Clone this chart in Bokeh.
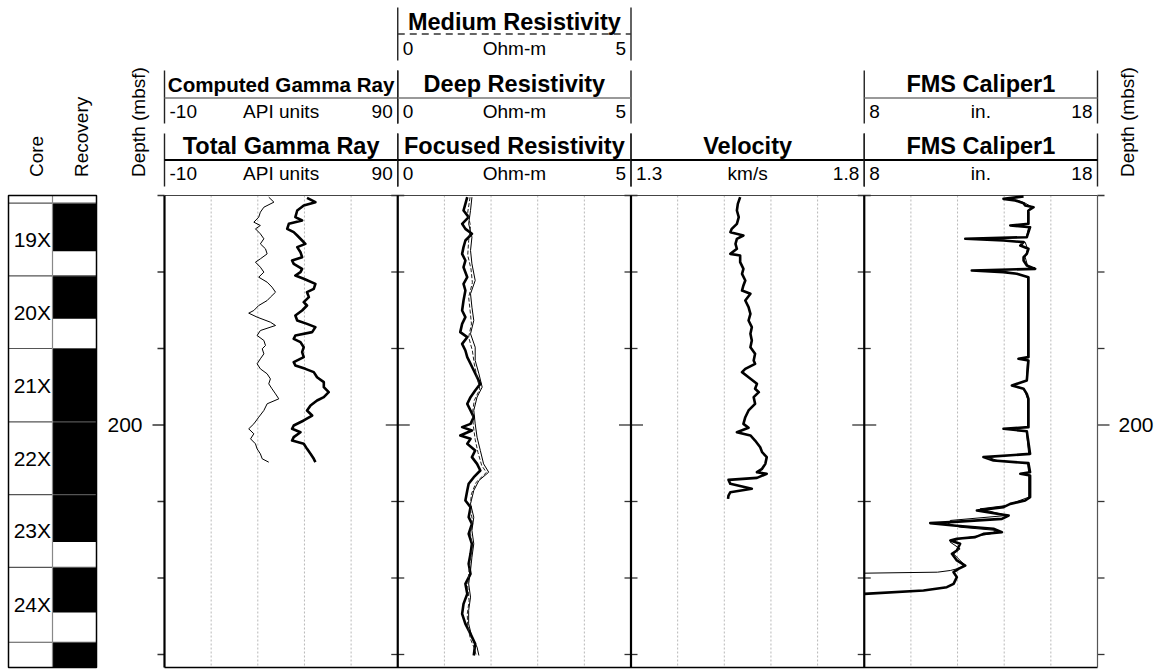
import math
from bokeh.plotting import figure
from bokeh.models import Range1d
from bokeh.core.properties import value
from bokeh.embed import file_html
from bokeh.resources import INLINE

# ---------------- core inventory (mbsf) ----------------
core_names = ["19X", "20X", "21X", "22X", "23X", "24X", "25X"]
core_tops = [171.0, 180.5, 190.0, 199.6, 209.1, 218.6, 228.4]
core_bottoms = [180.5, 190.0, 199.6, 209.1, 218.6, 228.4, 238.0]
recovered_bottoms = [177.3, 186.1, 199.6, 209.1, 215.3, 224.5, 238.0]

depth_ticks = [170, 180, 190, 200, 210, 220, 230]
labelled_depths = [200]

# ---------------- track scales ----------------
gamma_scale = (-10, 90)
res_scale = (0, 5)
vel_scale = (1.3, 1.8)
cal_scale = (8, 18)

# ---------------- log curves: (depth mbsf, value) ----------------
total_gamma = [
    (170.31, 51.1), (170.87, 54.7), (171.31, 49.7), (171.96, 46.9), (172.83, 46.1),
    (173.27, 49.0), (173.70, 43.3), (174.36, 42.6), (174.79, 45.4), (175.23, 46.9),
    (175.88, 49.0), (176.32, 50.4), (176.75, 46.9), (177.41, 48.3), (178.06, 49.0),
    (178.50, 44.7), (178.93, 45.4), (179.59, 49.0), (180.02, 48.3), (180.46, 46.1),
    (180.89, 49.7), (181.55, 54.7), (182.20, 54.0), (182.64, 51.1), (183.29, 51.9),
    (183.94, 49.7), (184.38, 51.1), (185.03, 49.0), (185.69, 46.1), (186.34, 46.9),
    (186.78, 51.1), (187.21, 54.7), (187.86, 53.3), (188.30, 46.1), (188.74, 45.4),
    (189.17, 48.3), (189.83, 49.7), (190.48, 49.0), (191.13, 49.7), (191.79, 45.4),
    (192.22, 46.1), (192.66, 50.4), (193.09, 54.0), (193.75, 55.4), (194.40, 58.3),
    (195.05, 58.3), (195.71, 60.4), (196.36, 58.3), (196.80, 55.4), (197.45, 52.6),
    (198.10, 51.1), (198.76, 53.3), (199.41, 49.7), (200.07, 45.4), (200.50, 44.7),
    (200.94, 48.3), (201.59, 45.4), (202.03, 44.7), (202.46, 49.7), (203.12, 51.1),
    (203.77, 52.6), (204.42, 54.0), (204.86, 54.7),
]

computed_gamma = [
    (170.22, 34.7), (170.87, 36.9), (171.53, 32.6), (172.18, 31.1), (172.83, 30.4),
    (173.49, 28.3), (173.92, 31.1), (174.36, 29.0), (175.01, 31.1), (175.66, 32.6),
    (176.32, 31.1), (176.97, 33.3), (177.63, 34.0), (178.28, 31.1), (178.71, 29.0),
    (179.37, 31.1), (180.02, 32.6), (180.68, 30.4), (181.33, 34.0), (181.98, 36.1),
    (182.64, 37.6), (183.29, 35.4), (183.73, 34.0), (184.38, 30.4), (185.03, 28.3),
    (185.38, 26.1), (185.90, 29.7), (186.56, 35.4), (186.99, 37.6), (187.65, 31.1),
    (188.30, 29.7), (188.95, 32.6), (189.61, 33.3), (190.04, 31.9), (190.70, 32.6),
    (191.35, 31.1), (192.00, 29.7), (192.66, 31.1), (193.31, 34.0), (193.97, 35.4),
    (194.62, 34.7), (195.27, 36.1), (195.93, 37.6), (196.58, 39.0), (197.23, 34.0),
    (198.10, 32.6), (198.98, 30.4), (199.85, 28.3), (200.50, 26.1), (201.15, 28.3),
    (201.81, 26.9), (202.46, 29.0), (203.12, 29.7), (203.77, 31.1), (204.42, 31.9),
    (204.86, 34.7),
]

focused_res = [
    (170.22, 1.49), (171.09, 1.45), (171.96, 1.41), (172.83, 1.52), (173.70, 1.38),
    (174.36, 1.45), (175.01, 1.59), (175.88, 1.45), (176.75, 1.41), (177.63, 1.38),
    (178.50, 1.45), (179.37, 1.41), (180.68, 1.49), (181.55, 1.41), (182.42, 1.45),
    (183.73, 1.41), (185.03, 1.38), (185.90, 1.45), (186.78, 1.38), (187.86, 1.34),
    (188.52, 1.49), (189.39, 1.38), (190.26, 1.45), (191.13, 1.49), (192.00, 1.56),
    (192.88, 1.63), (193.75, 1.70), (194.62, 1.77), (195.49, 1.66), (196.36, 1.56),
    (197.23, 1.49), (198.10, 1.56), (198.98, 1.63), (199.85, 1.56), (200.28, 1.38),
    (200.72, 1.59), (201.37, 1.34), (201.81, 1.56), (202.46, 1.49), (203.33, 1.66),
    (204.20, 1.59), (205.08, 1.70), (205.95, 1.77), (206.82, 1.63), (207.69, 1.52),
    (208.56, 1.49), (209.87, 1.45), (210.74, 1.56), (212.05, 1.52), (212.92, 1.59),
    (214.23, 1.52), (215.53, 1.59), (216.84, 1.56), (218.15, 1.52), (219.46, 1.56),
    (220.76, 1.45), (222.07, 1.49), (223.38, 1.41), (224.69, 1.38), (225.99, 1.45),
    (227.30, 1.56), (228.61, 1.66), (230.13, 1.63),
]

deep_res = [
    (170.22, 1.59), (171.96, 1.56), (173.70, 1.52), (175.45, 1.59), (177.19, 1.56),
    (178.93, 1.59), (181.11, 1.66), (182.85, 1.56), (184.60, 1.59), (186.34, 1.63),
    (188.08, 1.56), (189.83, 1.66), (191.57, 1.66), (193.31, 1.74), (195.05, 1.81),
    (196.36, 1.70), (198.10, 1.63), (199.85, 1.66), (201.59, 1.70), (203.33, 1.77),
    (205.08, 1.84), (206.17, 1.95), (207.26, 1.74), (208.56, 1.63), (210.31, 1.56),
    (212.05, 1.63), (213.79, 1.59), (215.53, 1.63), (217.28, 1.59), (219.02, 1.56),
    (220.76, 1.52), (222.50, 1.56), (224.25, 1.52), (225.99, 1.52), (227.74, 1.59),
    (229.04, 1.70), (230.13, 1.74),
]

medium_res = [
    (170.22, 1.55), (172.20, 1.50), (174.00, 1.56), (175.90, 1.52), (177.80, 1.50),
    (179.60, 1.57), (181.40, 1.60), (183.30, 1.52), (185.00, 1.55), (186.80, 1.58),
    (188.50, 1.52), (190.30, 1.60), (192.00, 1.64), (193.80, 1.70), (195.30, 1.76),
    (196.80, 1.64), (198.50, 1.60), (200.10, 1.62), (201.90, 1.66), (203.60, 1.72),
    (205.30, 1.80), (206.20, 1.90), (207.50, 1.68), (209.00, 1.58), (210.80, 1.55),
    (212.40, 1.60), (214.20, 1.56), (216.00, 1.60), (217.80, 1.55), (219.60, 1.52),
    (221.20, 1.50), (223.00, 1.53), (224.70, 1.49), (226.40, 1.50), (228.00, 1.56),
    (229.30, 1.65), (230.10, 1.68),
]

velocity = [
    (170.22, 1.534), (171.09, 1.529), (171.96, 1.527), (172.83, 1.531), (173.70, 1.527),
    (174.36, 1.516), (174.79, 1.513), (175.23, 1.541), (175.66, 1.527), (176.32, 1.524),
    (176.97, 1.527), (177.63, 1.513), (177.84, 1.534), (178.71, 1.534), (179.59, 1.541),
    (180.24, 1.538), (181.11, 1.545), (181.76, 1.541), (182.42, 1.538), (182.85, 1.556),
    (183.73, 1.545), (184.60, 1.552), (185.47, 1.556), (186.34, 1.552), (187.21, 1.559),
    (188.08, 1.556), (188.95, 1.559), (189.83, 1.556), (190.70, 1.566), (191.57, 1.563),
    (192.00, 1.566), (192.66, 1.545), (193.09, 1.538), (193.75, 1.552), (194.62, 1.570),
    (195.27, 1.566), (195.71, 1.574), (196.36, 1.563), (197.23, 1.566), (198.10, 1.552),
    (198.98, 1.545), (199.85, 1.541), (200.37, 1.552), (200.94, 1.527), (201.37, 1.556),
    (202.03, 1.566), (202.90, 1.577), (203.55, 1.581), (204.20, 1.591), (205.08, 1.588),
    (205.73, 1.581), (206.17, 1.570), (206.38, 1.591), (206.91, 1.570), (207.17, 1.509),
    (207.69, 1.513), (208.34, 1.559), (208.78, 1.513), (209.22, 1.509), (209.65, 1.508),
]

caliper_a = [
    (170.13, 14.83), (170.44, 13.97), (170.65, 14.47), (171.00, 14.83), (171.31, 14.90),
    (171.53, 15.26), (171.96, 15.04), (173.70, 15.04), (173.92, 14.26), (174.14, 15.11),
    (175.45, 14.97), (175.66, 12.33), (175.88, 13.97), (176.10, 14.83), (176.54, 14.69),
    (176.97, 15.04), (177.63, 14.97), (178.06, 14.83), (178.50, 14.83), (179.15, 14.97),
    (179.59, 15.33), (179.80, 12.61), (180.02, 13.97), (180.24, 14.54), (180.68, 15.04),
    (191.13, 15.04), (191.35, 14.61), (191.57, 15.04), (194.18, 14.97), (194.84, 14.33),
    (195.27, 14.83), (195.93, 14.97), (196.58, 15.04), (200.28, 15.04), (200.50, 13.97),
    (200.81, 14.97), (203.77, 15.11), (204.20, 13.11), (204.64, 13.54), (204.99, 15.04),
    (206.17, 15.11), (206.38, 14.69), (206.60, 15.11), (209.44, 15.11), (209.87, 14.90),
    (210.31, 14.26), (210.74, 13.97), (211.18, 12.83), (211.61, 13.69), (211.83, 14.19),
    (212.27, 13.90), (212.70, 11.69), (212.83, 10.83), (213.14, 11.83), (213.57, 13.54),
    (214.01, 13.90), (214.23, 13.11), (214.66, 12.76), (214.88, 11.97), (215.10, 11.69),
    (215.53, 12.11), (216.41, 11.97), (216.84, 11.76), (217.71, 11.97), (218.37, 12.33),
    (218.80, 12.04), (219.24, 11.83), (219.89, 11.97), (220.76, 11.83), (221.20, 11.54),
    (221.63, 10.54), (222.07, 8.00),
]

caliper_b = [
    (170.13, 14.76), (170.44, 14.20), (170.65, 14.60), (171.00, 14.90), (171.53, 15.20),
    (171.96, 15.00), (173.70, 15.00), (173.92, 14.40), (174.14, 15.05), (175.45, 14.95),
    (175.66, 12.50), (175.88, 14.10), (176.10, 14.90), (176.97, 15.00), (178.06, 14.90),
    (179.15, 15.00), (179.59, 15.25), (179.80, 12.80), (180.02, 14.10), (180.24, 14.60),
    (180.68, 15.00), (191.13, 15.00), (191.35, 14.70), (191.57, 15.00), (194.18, 14.95),
    (194.84, 14.40), (195.27, 14.85), (196.58, 15.00), (200.28, 15.00), (200.50, 14.10),
    (200.81, 14.95), (203.77, 15.05), (204.20, 13.30), (204.64, 13.70), (204.99, 15.00),
    (206.17, 15.05), (206.38, 14.75), (206.60, 15.05), (209.44, 15.05), (210.09, 14.47),
    (210.52, 14.11), (210.96, 12.97), (211.39, 13.54), (211.83, 14.11), (212.48, 11.69),
    (212.92, 11.61), (213.36, 12.11), (213.79, 13.69), (214.23, 13.40), (214.88, 12.11),
    (215.32, 11.69), (216.19, 12.11), (216.84, 11.83), (217.71, 12.11), (218.37, 12.33),
    (218.80, 11.97), (219.02, 11.69), (219.24, 11.14), (219.37, 8.00),
]

# ---------------- page layout (pixels from top-left) ----------------
W, H = 1167, 669
DATA_TOP_PX, DATA_BOTTOM_PX = 195.0, 667.0
DEPTH_TOP, DEPTH_BOTTOM = 170.0, 231.7
TRACK_LEFT, TRACK_W = 164.0, 233.25
CORE_X0, CORE_X1, CORE_X2 = 8.0, 52.0, 96.0

PX_PER_M = (DATA_BOTTOM_PX - DATA_TOP_PX) / (DEPTH_BOTTOM - DEPTH_TOP)


def depth_at(px):
    return DEPTH_TOP + (px - DATA_TOP_PX) / PX_PER_M


def track_range(i, lo, hi):
    x0 = TRACK_LEFT + i * TRACK_W
    k = (hi - lo) / TRACK_W
    return Range1d(start=lo - x0 * k, end=lo + (W - x0) * k)


tracks = [
    dict(key="gamma", scale=gamma_scale, unit="API units",
         curves=[("Total Gamma Ray", total_gamma, "thick"),
                 ("Computed Gamma Ray", computed_gamma, "thin")]),
    dict(key="res", scale=res_scale, unit="Ohm-m",
         curves=[("Focused Resistivity", focused_res, "thick"),
                 ("Deep Resistivity", deep_res, "thin"),
                 ("Medium Resistivity", medium_res, "dashed")]),
    dict(key="vel", scale=vel_scale, unit="km/s",
         curves=[("Velocity", velocity, "thick")]),
    dict(key="cal", scale=cal_scale, unit="in.",
         curves=[("FMS Caliper1", caliper_a, "thick"),
                 ("FMS Caliper1", caliper_b, "thin")]),
]

CURVE_STYLE = {
    "thick": dict(line_color="black", line_width=2.6),
    "thin": dict(line_color="black", line_width=1.0),
    "dashed": dict(line_color="#222222", line_width=1.0, line_dash="4 2"),
}
HEADER_LINE = {
    "thick": dict(line_color="black", line_width=2.0),
    "thin": dict(line_color="#777777", line_width=1.3),
    "dashed": dict(line_color="#333333", line_width=1.3, line_dash="7 5"),
}
TITLE_SIZE = {"Computed Gamma Ray": "20.6px"}

# vertical centres of header rows (row 0 sits right above the tracks)
ROW_TITLE_MID = [145.3, 83.9, 21.3]
ROW_LINE_Y = [159.5, 97.5, 33.5]
ROW_SCALE_MID = [173.0, 111.2, 48.0]
ROW_BAR = [(133.0, 186.0), (70.0, 123.0), (7.0, 60.0)]

FONT = value("Liberation Sans")

p = figure(width=W, height=H, x_range=Range1d(0, W), y_range=Range1d(H, 0),
           output_backend="svg", toolbar_location=None, min_border=0,
           x_axis_location=None, y_axis_location=None)
p.outline_line_color = None
p.background_fill_color = "white"
p.border_fill_color = "white"
p.grid.visible = False

p.extra_y_ranges = {"depth": Range1d(start=depth_at(H), end=depth_at(0))}
p.extra_x_ranges = {t["key"]: track_range(i, *t["scale"]) for i, t in enumerate(tracks)}

edges = [TRACK_LEFT + i * TRACK_W for i in range(len(tracks) + 1)]

# ---------------- track backgrounds: grid, borders, ticks ----------------
for i, t in enumerate(tracks):
    lo, hi = t["scale"]
    grid_vals = [lo + k * (hi - lo) / 5 for k in range(1, 5)]
    p.segment(x0=grid_vals, x1=grid_vals, y0=[DEPTH_TOP] * 4, y1=[DEPTH_BOTTOM] * 4,
              x_range_name=t["key"], y_range_name="depth",
              line_color="#b8b8b8", line_width=1, line_dash="2 2")

p.segment(x0=[edges[0]], x1=[edges[-1]], y0=[DEPTH_TOP], y1=[DEPTH_TOP],
          y_range_name="depth", line_color="#444444", line_width=1.2)
p.segment(x0=[edges[0]], x1=[edges[-1]], y0=[DEPTH_BOTTOM], y1=[DEPTH_BOTTOM],
          y_range_name="depth", line_color="black", line_width=1.5)

tx0, tx1, ty = [], [], []
for j, e in enumerate(edges):
    for d in depth_ticks:
        long = d in labelled_depths
        out = 12 if long else 7
        inn = 12 if long else 6.5
        if j == 0:
            a, b = e - out, e
        elif j == len(edges) - 1:
            a, b = e, e + out
        else:
            a, b = e - inn, e + inn
        tx0.append(a)
        tx1.append(b)
        ty.append(d)
p.segment(x0=tx0, x1=tx1, y0=ty, y1=ty, y_range_name="depth",
          line_color="#333333", line_width=1.3)

p.segment(x0=edges[:-1], x1=edges[:-1], y0=[DEPTH_TOP] * 4, y1=[DEPTH_BOTTOM] * 4,
          y_range_name="depth", line_color="black", line_width=2.2)
p.segment(x0=[edges[-1]], x1=[edges[-1]], y0=[DEPTH_TOP], y1=[DEPTH_BOTTOM],
          y_range_name="depth", line_color="#555555", line_width=1.2)

# ---------------- curves ----------------
for t in tracks:
    for _, data, style in t["curves"]:
        depths = [d for d, _ in data]
        vals = [v for _, v in data]
        p.line(x=vals, y=depths, x_range_name=t["key"], y_range_name="depth",
               line_join="round", **CURVE_STYLE[style])

# ---------------- headers ----------------
for i, t in enumerate(tracks):
    x0, x1 = edges[i], edges[i + 1]
    xc = (x0 + x1) / 2
    lo, hi = t["scale"]
    for r, (title, _, style) in enumerate(t["curves"]):
        p.segment(x0=[x0, x1], x1=[x0, x1], y0=[ROW_BAR[r][0]] * 2, y1=[ROW_BAR[r][1]] * 2,
                  line_color="#222222", line_width=1.4)
        p.segment(x0=[x0], x1=[x1], y0=[ROW_LINE_Y[r]], y1=[ROW_LINE_Y[r]],
                  **HEADER_LINE[style])
        p.text(x=[xc], y=[ROW_TITLE_MID[r]], text=[title], text_font=FONT,
               text_font_size=value(TITLE_SIZE.get(title, "23.5px")), text_font_style="bold",
               text_align="center", text_baseline="middle", text_color="black")
        p.text(x=[x0 + 5, xc, x1 - 5], y=[ROW_SCALE_MID[r]] * 3,
               text=[f"{lo:g}", t["unit"], f"{hi:g}"], text_font=FONT,
               text_font_size=value("19px"), text_align=["left", "center", "right"],
               text_baseline="middle", text_color="black")

# column titles, rotated
p.text(x=[36, 80.5, 137.5, 1127], y=[176.5] * 4,
       text=["Core", "Recovery", "Depth (mbsf)", "Depth (mbsf)"],
       angle=math.pi / 2, text_font=FONT, text_font_size=value("19px"),
       text_align="left", text_baseline="middle", text_color="black")

# depth labels
p.text(x=[142] * len(labelled_depths), y=labelled_depths, y_range_name="depth",
       text=[f"{d}" for d in labelled_depths], text_font=FONT, text_font_size=value("21px"),
       text_align="right", text_baseline="middle", text_color="black")
p.text(x=[1118] * len(labelled_depths), y=labelled_depths, y_range_name="depth",
       text=[f"{d}" for d in labelled_depths], text_font=FONT, text_font_size=value("21px"),
       text_align="left", text_baseline="middle", text_color="black")

# ---------------- core / recovery column ----------------
rec_bottom = [min(b, DEPTH_BOTTOM) for b in recovered_bottoms]
p.quad(left=[CORE_X1] * len(core_tops), right=[CORE_X2] * len(core_tops),
       top=core_tops, bottom=rec_bottom, y_range_name="depth",
       fill_color="black", line_color=None)
p.segment(x0=[CORE_X0] * len(core_tops), x1=[CORE_X2] * len(core_tops),
          y0=core_tops, y1=core_tops, y_range_name="depth",
          line_color="#555555", line_width=1.2)
p.segment(x0=[CORE_X1], x1=[CORE_X1], y0=[DEPTH_TOP], y1=[DEPTH_BOTTOM],
          y_range_name="depth", line_color="#888888", line_width=1.2)
p.quad(left=[CORE_X0], right=[CORE_X2], top=[DEPTH_TOP], bottom=[DEPTH_BOTTOM],
       y_range_name="depth", fill_color=None, line_color="black", line_width=1.5)

# core names, only for cores whose midpoint lies inside the logged interval
shown = [(n, (a + b) / 2) for n, a, b in zip(core_names, core_tops, core_bottoms)
         if (a + b) / 2 < DEPTH_BOTTOM]
p.text(x=[CORE_X1 - 1.5] * len(shown), y=[m for _, m in shown], y_range_name="depth",
       text=[n for n, _ in shown], text_font=FONT, text_font_size=value("21px"),
       text_align="right", text_baseline="middle", text_color="black")

open("out.html", "w").write(file_html(p, INLINE))
